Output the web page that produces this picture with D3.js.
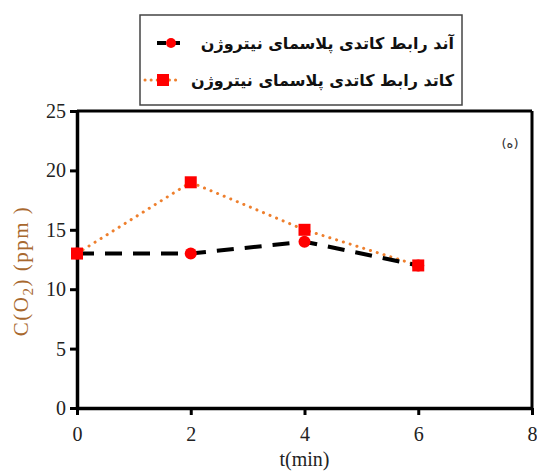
<!DOCTYPE html>
<html><head><meta charset="utf-8">
<script src="https://cdn.jsdelivr.net/npm/d3@7"></script>
<style>body{margin:0;background:#fff}svg{display:block}</style>
</head><body>
<svg id="c" width="537" height="475"></svg>
<script>
const times = [0, 2, 4, 6];
const anodeValues = [13, 13, 14, 12];
const cathodeValues = [13, 19, 15, 12];
const xTicks = [0, 2, 4, 6, 8];
const yTicks = [0, 5, 10, 15, 20, 25];
const seriesNames = ["آند رابط کاتدی پلاسمای نیتروژن", "کاتد رابط کاتدی پلاسمای نیتروژن"];
const xTitle = "t(min)";
const panelLabel = "(ه)";

const SERIF = "Liberation Serif";
const FA = "DejaVu Sans";
const svg = d3.select("#c");
const L = 77, R = 532, T = 111, B = 408;
const x = d3.scaleLinear().domain([0, 8]).range([L, R]);
const y = d3.scaleLinear().domain([0, 25]).range([B, T]);

// frame top/right
svg.append("line").attr("x1", L).attr("x2", R).attr("y1", T).attr("y2", T).attr("stroke", "#000").attr("stroke-width", 3);
svg.append("line").attr("x1", R).attr("x2", R).attr("y1", T).attr("y2", B).attr("stroke", "#000").attr("stroke-width", 3);

const xAxis = svg.append("g").attr("transform", `translate(0,${B})`)
  .call(d3.axisBottom(x).tickValues(xTicks).tickSize(7).tickSizeOuter(0).tickPadding(8));
const yAxis = svg.append("g").attr("transform", `translate(${L},0)`)
  .call(d3.axisLeft(y).tickValues(yTicks).tickSize(7).tickSizeOuter(0).tickPadding(4));
[xAxis, yAxis].forEach(g => {
  g.attr("font-family", SERIF).attr("font-size", 20);
  g.select(".domain").attr("stroke", "#000").attr("stroke-width", 3.5);
  g.selectAll(".tick line").attr("stroke", "#000").attr("stroke-width", 3);
  g.selectAll(".tick text").attr("font-family", SERIF).attr("font-size", 20).attr("fill", "#222");
});
xAxis.selectAll(".tick text").attr("dy", "0.9em");

svg.append("text").attr("font-family", SERIF).attr("x", x(4)).attr("y", 466).attr("text-anchor", "middle")
  .attr("font-size", 20).attr("fill", "#222").text(xTitle);

const yl = svg.append("text").attr("font-family", SERIF).attr("transform", "translate(28,271) rotate(-90)")
  .attr("text-anchor", "middle").attr("font-size", 21).attr("letter-spacing", 1.5).attr("fill", "#a8682e");
yl.append("tspan").text("C(O");
yl.append("tspan").attr("font-size", 15).attr("dy", 5).text("2");
yl.append("tspan").attr("dy", -5).text(")  (ppm )");

svg.append("text").attr("font-family", FA).attr("x", 510).attr("y", 148).attr("text-anchor", "middle")
  .attr("font-size", 13).attr("fill", "#333").text(panelLabel);

const line = d3.line().x((d, i) => x(times[i])).y(d => y(d));

svg.append("path").datum(cathodeValues).attr("d", line).attr("fill", "none")
  .attr("stroke", "#ee7f2d").attr("stroke-width", 3).attr("stroke-linecap", "round").attr("stroke-dasharray", "0.1,7");
svg.append("path").datum(anodeValues).attr("d", line).attr("fill", "none")
  .attr("stroke", "#000").attr("stroke-width", 4).attr("stroke-dasharray", "17,11");

svg.selectAll(".circ").data(anodeValues).enter().append("circle")
  .attr("cx", (d, i) => x(times[i])).attr("cy", d => y(d)).attr("r", 6).attr("fill", "#f00");
svg.selectAll(".sq").data(cathodeValues).enter().append("rect")
  .attr("x", (d, i) => x(times[i]) - 6).attr("y", d => y(d) - 6).attr("width", 12).attr("height", 12).attr("fill", "#f00");

// legend
svg.append("rect").attr("x", 140).attr("y", 15).attr("width", 322).attr("height", 90)
  .attr("fill", "#fff").attr("stroke", "#444").attr("stroke-width", 1.5);
const legY = [43, 80];
legY.forEach((ly, k) => {
  svg.append("text").attr("font-family", FA).attr("x", 454).attr("y", ly + 6).attr("text-anchor", "end")
    .attr("font-size", 16).attr("font-weight", "bold").attr("fill", "#111").text(seriesNames[k]);
});
svg.append("line").attr("x1", 157).attr("x2", 185).attr("y1", legY[0]).attr("y2", legY[0])
  .attr("stroke", "#000").attr("stroke-width", 4).attr("stroke-dasharray", "9,5");
svg.append("circle").attr("cx", 171).attr("cy", legY[0]).attr("r", 5).attr("fill", "#f00");
svg.append("line").attr("x1", 145).attr("x2", 180).attr("y1", legY[1]).attr("y2", legY[1])
  .attr("stroke", "#ee7f2d").attr("stroke-width", 3).attr("stroke-linecap", "round").attr("stroke-dasharray", "0.1,6");
svg.append("rect").attr("x", 157).attr("y", legY[1] - 6).attr("width", 12).attr("height", 12).attr("fill", "#f00");
</script>
</body></html>
